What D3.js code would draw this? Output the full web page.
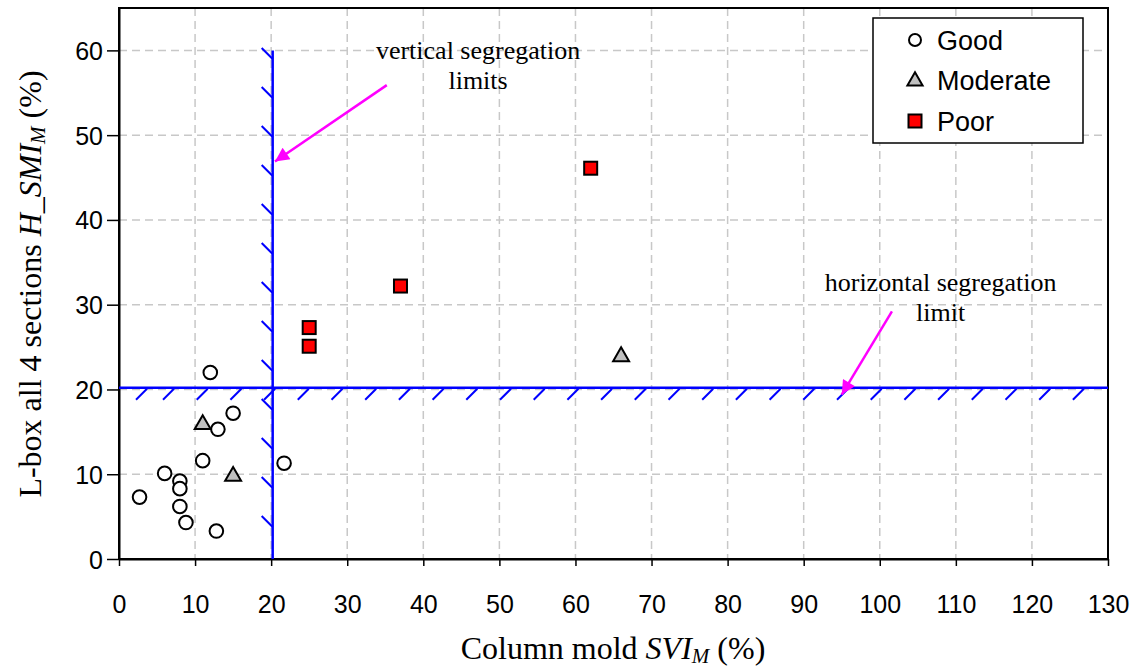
<!DOCTYPE html>
<html>
<head>
<meta charset="utf-8">
<script src="https://cdn.jsdelivr.net/npm/d3@7"></script>
<style>
  html, body { margin: 0; padding: 0; background: #fff; }
  svg { display: block; }
</style>
</head>
<body>
<svg id="chart" width="1141" height="669"></svg>
<script>
// ---- data ----
const goodX = [12, 15, 13, 11, 21.7, 6, 8, 8, 2.7, 8, 8.8, 12.8];
const goodY = [22, 17.2, 15.3, 11.6, 11.3, 10.1, 9.2, 8.3, 7.3, 6.2, 4.3, 3.3];
const moderateX = [11, 15, 66];
const moderateY = [16, 9.9, 24];
const poorX = [62, 37, 25, 25];
const poorY = [46.1, 32.2, 27.3, 25.1];
const xTicks = [0,10,20,30,40,50,60,70,80,90,100,110,120,130];
const yTicks = [0,10,20,30,40,50,60];
const seriesNames = ["Good", "Moderate", "Poor"];
const verticalLimit = 20.2;
const horizontalLimit = 20.2;

const svg = d3.select("#chart");
const L = 119, R = 1108, T = 8, B = 559;
const x = d3.scaleLinear().domain([0, 130]).range([L, R]);
const y = d3.scaleLinear().domain([0, 65]).range([B, T]);

// gridlines
const grid = svg.append("g");
grid.selectAll("line.gx").data(xTicks.filter(d => d > 0 && d < 130)).enter().append("line")
  .attr("x1", d => x(d)).attr("x2", d => x(d)).attr("y1", T).attr("y2", B)
  .attr("stroke", "#c8c8c8").attr("stroke-width", 1.5).attr("stroke-dasharray", "8,5");
grid.selectAll("line.gy").data(yTicks.filter(d => d > 0)).enter().append("line")
  .attr("y1", d => y(d)).attr("y2", d => y(d)).attr("x1", L).attr("x2", R)
  .attr("stroke", "#c8c8c8").attr("stroke-width", 1.5).attr("stroke-dasharray", "8,5");

// frame
svg.append("rect").attr("x", L).attr("y", T).attr("width", R - L).attr("height", B - T)
  .attr("fill", "none").attr("stroke", "#000").attr("stroke-width", 2);

// axes
const xAxis = svg.append("g").attr("transform", `translate(0,${B})`)
  .call(d3.axisBottom(x).tickValues(xTicks).tickSize(7).tickSizeOuter(0).tickPadding(29));
const yAxis = svg.append("g").attr("transform", `translate(${L},0)`)
  .call(d3.axisLeft(y).tickValues(yTicks).tickSize(12).tickSizeOuter(0).tickPadding(4));
[xAxis, yAxis].forEach(a => {
  a.select(".domain").attr("stroke", "#000").attr("stroke-width", 2);
  a.selectAll(".tick line").attr("stroke", "#000").attr("stroke-width", 1.5);
  a.selectAll(".tick text").attr("font-family", "Liberation Sans, Arial, sans-serif")
    .attr("font-size", 25).attr("fill", "#000");
});
yAxis.selectAll(".tick text").attr("dy", "0.36em");

// segregation limits (blue lines with hatches)
const blue = "#0000ff";
const lim = svg.append("g");
lim.append("line").attr("x1", x(0)).attr("x2", x(130)).attr("y1", y(horizontalLimit)).attr("y2", y(horizontalLimit))
  .attr("stroke", blue).attr("stroke-width", 2.5);
lim.append("line").attr("x1", x(verticalLimit)).attr("x2", x(verticalLimit)).attr("y1", y(0)).attr("y2", y(60))
  .attr("stroke", blue).attr("stroke-width", 2.5);
// hatches on vertical line (left side, "\")
const vx = x(verticalLimit);
for (let k = 0; k < 13; k++) {
  const ye = 527 - k * 39;
  lim.append("line").attr("x1", vx - 11).attr("y1", ye - 11).attr("x2", vx).attr("y2", ye)
    .attr("stroke", blue).attr("stroke-width", 2);
}
// hatches on horizontal line (below, "/")
const hy = y(horizontalLimit);
const hEnds = [147];
for (let k = 0; k <= 27; k++) hEnds.push(174 + k * 33.7);
hEnds.forEach(xe => {
  lim.append("line").attr("x1", xe - 11).attr("y1", hy + 12).attr("x2", xe).attr("y2", hy + 1)
    .attr("stroke", blue).attr("stroke-width", 2);
});

// arrows & annotations
const mag = "#ff00ff";
svg.append("defs").append("marker").attr("id", "ah").attr("viewBox", "0 0 10 10")
  .attr("refX", 10).attr("refY", 5).attr("markerWidth", 16).attr("markerHeight", 14)
  .attr("markerUnits", "userSpaceOnUse").attr("orient", "auto")
  .append("path").attr("d", "M0,0 L10,5 L0,10 Z").attr("fill", mag);
function arrow(x1, y1, x2, y2) {
  svg.append("line").attr("x1", x(x1)).attr("y1", y(y1)).attr("x2", x(x2)).attr("y2", y(y2))
    .attr("stroke", mag).attr("stroke-width", 2.5).attr("marker-end", "url(#ah)");
}
arrow(35.2, 55.9, 20.5, 46.9);
arrow(101.6, 29.2, 95.0, 19.4);
function note(lines, cx, cyTop) {
  const t = svg.append("text").attr("font-family", "Liberation Serif, Times New Roman, serif")
    .attr("font-size", 26).attr("text-anchor", "middle").attr("fill", "#000");
  lines.forEach((s, i) => t.append("tspan").attr("x", x(cx)).attr("y", y(cyTop) + i * 30).text(s));
}
note(["vertical segregation", "limits"], 47.2, 59.0);
note(["horizontal segregation", "limit"], 108.0, 31.6);

// points
const pts = svg.append("g");
pts.selectAll("circle").data(d3.range(goodX.length)).enter().append("circle")
  .attr("cx", i => x(goodX[i])).attr("cy", i => y(goodY[i])).attr("r", 6.8)
  .attr("fill", "#fff").attr("stroke", "#000").attr("stroke-width", 2);
const tri = d3.symbol().type(d3.symbolTriangle).size(110);
pts.selectAll("path.mod").data(d3.range(moderateX.length)).enter().append("path")
  .attr("d", tri).attr("transform", i => `translate(${x(moderateX[i])},${y(moderateY[i]) + 1})`)
  .attr("fill", "#c0c0c0").attr("stroke", "#000").attr("stroke-width", 2);
pts.selectAll("rect.poor").data(d3.range(poorX.length)).enter().append("rect")
  .attr("x", i => x(poorX[i]) - 6.5).attr("y", i => y(poorY[i]) - 6.5).attr("width", 13).attr("height", 13)
  .attr("fill", "#ff0000").attr("stroke", "#000").attr("stroke-width", 2);

// legend
const lg = svg.append("g");
lg.append("rect").attr("x", 873).attr("y", 18).attr("width", 210).attr("height", 125)
  .attr("fill", "#fff").attr("stroke", "#000").attr("stroke-width", 1.5);
const ly = [40, 80, 121];
seriesNames.forEach((name, i) => {
  const cy = ly[i], cx = 915;
  if (i === 0) lg.append("circle").attr("cx", cx).attr("cy", cy).attr("r", 6).attr("fill", "#fff").attr("stroke", "#000").attr("stroke-width", 2);
  if (i === 1) lg.append("path").attr("d", d3.symbol().type(d3.symbolTriangle).size(100)).attr("transform", `translate(${cx},${cy + 1})`).attr("fill", "#c0c0c0").attr("stroke", "#000").attr("stroke-width", 2);
  if (i === 2) lg.append("rect").attr("x", cx - 6.5).attr("y", cy - 6.5).attr("width", 13).attr("height", 13).attr("fill", "#ff0000").attr("stroke", "#000").attr("stroke-width", 2);
  lg.append("text").attr("x", 937).attr("y", cy).attr("dy", "0.36em")
    .attr("font-family", "Liberation Sans, Arial, sans-serif").attr("font-size", 27).text(name);
});

// axis titles
const xt = svg.append("text").attr("x", 613).attr("y", 659).attr("text-anchor", "middle")
  .attr("font-family", "Liberation Serif, Times New Roman, serif").attr("font-size", 32).attr("fill", "#000");
xt.append("tspan").text("Column mold ");
xt.append("tspan").attr("font-style", "italic").text("SVI");
xt.append("tspan").attr("font-style", "italic").attr("font-size", 21).attr("dy", 4).text("M");
xt.append("tspan").attr("dy", -4).text(" (%)");

const yt = svg.append("text").attr("transform", "translate(41,284) rotate(-90)").attr("text-anchor", "middle")
  .attr("font-family", "Liberation Serif, Times New Roman, serif").attr("font-size", 32).attr("fill", "#000");
yt.append("tspan").text("L-box all 4 sections ");
yt.append("tspan").attr("font-style", "italic").text("H_SMI");
yt.append("tspan").attr("font-style", "italic").attr("font-size", 21).attr("dy", 4).text("M");
yt.append("tspan").attr("dy", -4).text(" (%)");
</script>
</body>
</html>
